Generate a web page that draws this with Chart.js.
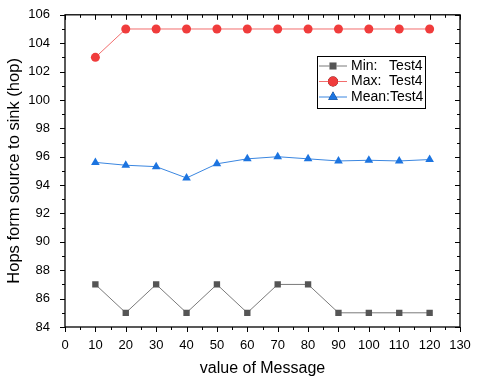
<!DOCTYPE html>
<html>
<head>
<meta charset="utf-8">
<script src="https://cdn.jsdelivr.net/npm/chart.js@4/dist/chart.umd.min.js"></script>
<style>
  html, body { margin: 0; padding: 0; background: #fff; }
  #wrap { width: 479px; height: 380px; }
</style>
</head>
<body>
<div id="wrap"><canvas id="chart"></canvas></div>
<script>
// data
const messages = [10, 20, 30, 40, 50, 60, 70, 80, 90, 100, 110, 120];
const minHops = [87, 85, 87, 85, 87, 85, 87, 87, 85, 85, 85, 85];
const maxHops = [103, 105, 105, 105, 105, 105, 105, 105, 105, 105, 105, 105];
const meanHops = [95.6, 95.4, 95.3, 94.5, 95.5, 95.85, 96.0, 95.85, 95.7, 95.75, 95.7, 95.8];
const seriesNames = ['Min:   Test4', 'Max:  Test4', 'Mean:Test4'];

const font = 'Liberation Sans, Arial, sans-serif';

function pts(ys) {
    return messages.map((x, i) => ({ x: x, y: ys[i] }));
}

// frame, minor ticks, mirrored ticks on top/right
const frameTicks = {
    id: 'frameTicks',
    afterDraw(chart) {
        const ctx = chart.ctx;
        const a = chart.chartArea;
        const xs = chart.scales.x, ys = chart.scales.y;
        ctx.save();
        ctx.strokeStyle = '#000';
        ctx.lineWidth = 1;
        ctx.beginPath();
        for (let v = 0; v <= 130; v += 5) {
            const px = Math.round(xs.getPixelForValue(v)) + 0.5;
            const major = v % 10 === 0;
            const len = major ? 5 : 3;
            // bottom, outward
            ctx.moveTo(px, a.bottom); ctx.lineTo(px, a.bottom + len);
            // top, inward
            ctx.moveTo(px, a.top); ctx.lineTo(px, a.top + len);
        }
        for (let v = 84; v <= 106; v += 1) {
            const py = Math.round(ys.getPixelForValue(v)) + 0.5;
            const major = v % 2 === 0;
            const len = major ? 5 : 3;
            ctx.moveTo(a.left, py); ctx.lineTo(a.left - len, py);
            ctx.moveTo(a.right, py); ctx.lineTo(a.right - len, py);
        }
        ctx.stroke();
        ctx.lineWidth = 1.3;
        ctx.strokeRect(a.left, a.top, a.right - a.left, a.bottom - a.top);
        ctx.restore();
    }
};

// boxed legend inside the plot
const boxLegend = {
    id: 'boxLegend',
    afterDraw(chart) {
        const ctx = chart.ctx;
        const bx = 317, by = 56, bw = 108, bh = 52;
        ctx.save();
        ctx.fillStyle = '#fff';
        ctx.fillRect(bx, by, bw, bh);
        ctx.strokeStyle = '#000';
        ctx.lineWidth = 1;
        ctx.strokeRect(bx + 0.5, by + 0.5, bw, bh);
        ctx.font = '14px ' + font;
        ctx.textBaseline = 'middle';
        chart.data.datasets.forEach((ds, i) => {
            const cy = by + 10 + i * 15.5;
            ctx.strokeStyle = ds.borderColor;
            ctx.lineWidth = 1;
            ctx.beginPath();
            ctx.moveTo(bx + 2, cy); ctx.lineTo(bx + 30, cy);
            ctx.stroke();
            Chart.helpers.drawPoint(ctx, {
                pointStyle: ds.pointStyle,
                radius: ds.pointRadius + 0.5,
                rotation: 0,
                borderWidth: 0
            }, bx + 16, cy);
            ctx.fillStyle = ds.pointBackgroundColor;
            ctx.fill();
            ctx.fillStyle = '#000';
            ctx.fillText(ds.label, bx + 34, cy);
        });
        ctx.restore();
    }
};

new Chart(document.getElementById('chart').getContext('2d'), {
    type: 'line',
    data: {
        datasets: [{
            label: seriesNames[0],
            data: pts(minHops),
            borderColor: '#7a7a7a',
            borderWidth: 1,
            pointStyle: 'rect',
            pointRadius: 4.5,
            pointBackgroundColor: '#555555',
            pointBorderWidth: 0
        }, {
            label: seriesNames[1],
            data: pts(maxHops),
            borderColor: '#f26d6d',
            borderWidth: 1,
            pointStyle: 'circle',
            pointRadius: 4.5,
            pointBackgroundColor: '#f03c3c',
            pointBorderWidth: 0
        }, {
            label: seriesNames[2],
            data: pts(meanHops),
            borderColor: '#3a86e0',
            borderWidth: 1,
            pointStyle: 'triangle',
            pointRadius: 5,
            pointBackgroundColor: '#1c74e0',
            pointBorderWidth: 0
        }]
    },
    options: {
        responsive: true,
        maintainAspectRatio: false,
        animation: false,
        layout: { padding: { top: 11, right: 19, left: 4, bottom: 0 } },
        plugins: {
            legend: { display: false },
            tooltip: { enabled: false }
        },
        scales: {
            x: {
                type: 'linear',
                min: 0,
                max: 130,
                grid: { display: false },
                border: { display: false },
                ticks: {
                    stepSize: 10,
                    color: '#000',
                    padding: 3,
                    font: { family: font, size: 13 }
                },
                title: {
                    display: true,
                    text: 'value of Message',
                    color: '#000',
                    padding: { top: 4, bottom: 2 },
                    font: { family: font, size: 16 }
                },
                afterFit(scale) { scale.height = 53; }
            },
            y: {
                min: 84,
                max: 106,
                grid: { display: false },
                border: { display: false },
                ticks: {
                    stepSize: 2,
                    color: '#000',
                    padding: 7,
                    font: { family: font, size: 13 }
                },
                title: {
                    display: true,
                    text: 'Hops form source to sink (hop)',
                    color: '#000',
                    padding: { top: 1, bottom: 2 },
                    font: { family: font, size: 16.5 }
                },
                afterFit(scale) { scale.width = 61; }
            }
        }
    },
    plugins: [frameTicks, boxLegend]
});
</script>
</body>
</html>
